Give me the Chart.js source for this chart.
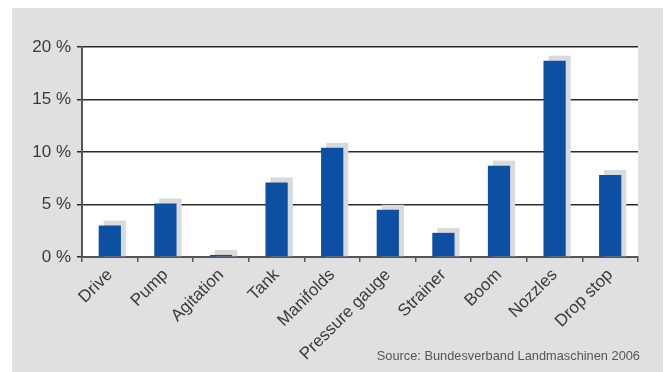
<!DOCTYPE html>
<html>
<head>
<meta charset="utf-8">
<script src="https://cdn.jsdelivr.net/npm/chart.js@4"></script>
<style>
  body { margin: 0; background: #fff; }
  #box { position: absolute; left: 12px; top: 8px; width: 651px; height: 364px; background: #e0e0e0; }
  #src { position: absolute; right: 23px; top: 340px; font: 12.8px "Liberation Sans", Arial, sans-serif; color: #555; }
</style>
</head>
<body>
<div id="box">
  <canvas id="chart" width="651" height="364"></canvas>
  <div id="src">Source: Bundesverband Landmaschinen 2006</div>
</div>
<script>
var components = ["Drive", "Pump", "Agitation", "Tank", "Manifolds", "Pressure gauge", "Strainer", "Boom", "Nozzles", "Drop stop"];
var shares = [3.0, 5.1, 0.2, 7.1, 10.4, 4.5, 2.3, 8.7, 18.7, 7.8];
var yTicks = [0, 5, 10, 15, 20];

// white plot area
var plotBackground = {
    id: 'plotBackground',
    beforeDraw(chart) {
        const a = chart.chartArea;
        const ctx = chart.ctx;
        ctx.save();
        ctx.fillStyle = '#ffffff';
        ctx.fillRect(a.left, a.top, a.right - a.left, a.bottom - a.top);
        ctx.restore();
    }
};

// grey shadow behind every bar, shifted right and up
var barShadow = {
    id: 'barShadow',
    beforeDatasetsDraw(chart) {
        const ctx = chart.ctx;
        const meta = chart.getDatasetMeta(0);
        ctx.save();
        ctx.fillStyle = '#d9dadc';
        meta.data.forEach(bar => {
            const p = bar.getProps(['x', 'y', 'base', 'width'], true);
            ctx.fillRect(p.x - p.width / 2 + 5, p.y - 5, p.width, p.base - p.y + 5);
        });
        ctx.restore();
    }
};

new Chart(document.getElementById('chart'), {
    type: 'bar',
    data: {
        labels: components,
        datasets: [{
            data: shares,
            backgroundColor: '#0d4fa2',
            barPercentage: 0.4,
            categoryPercentage: 1
        }]
    },
    options: {
        responsive: false,
        animation: false,
        layout: { padding: { left: 0, top: 39, right: 25, bottom: 0 } },
        plugins: { legend: { display: false }, tooltip: { enabled: false } },
        scales: {
            x: {
                afterFit: s => { s.height = 115; },
                grid: { drawOnChartArea: false, drawTicks: true, tickLength: 5, color: '#555', lineWidth: 1.5 },
                border: { color: '#555', width: 2 },
                ticks: {
                    maxRotation: 45,
                    minRotation: 45,
                    padding: 3,
                    color: '#3a3a3a',
                    font: { family: '"Liberation Sans", Arial, sans-serif', size: 17 }
                }
            },
            y: {
                min: 0,
                max: 20,
                afterFit: s => { s.width = 70; },
                afterBuildTicks: s => { s.ticks = yTicks.map(v => ({ value: v })); },
                grid: { color: '#2a2a2a', lineWidth: 1.5, tickLength: 5 },
                border: { color: '#555', width: 2 },
                ticks: {
                    padding: 6,
                    color: '#3a3a3a',
                    font: { family: '"Liberation Sans", Arial, sans-serif', size: 17 },
                    callback: v => v + ' %'
                }
            }
        }
    },
    plugins: [plotBackground, barShadow]
});
</script>
</body>
</html>
